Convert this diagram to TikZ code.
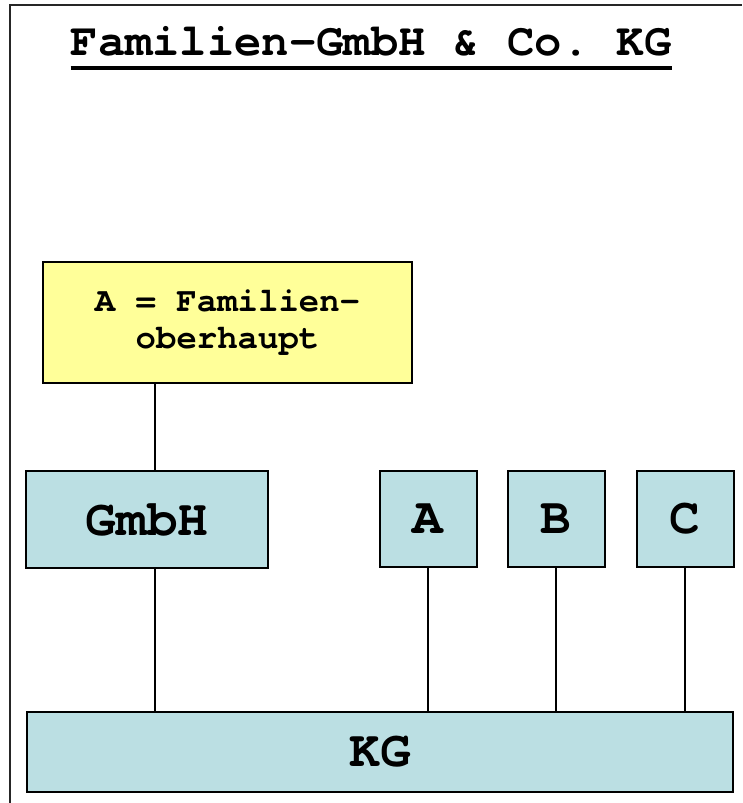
\documentclass[tikz,border=0pt]{standalone}
\usepackage{fontspec}
\setmonofont{TeX Gyre Cursor}
\begin{document}
\begin{tikzpicture}[x=1pt,y=-1pt,
  every node/.style={font=\ttfamily\bfseries, text=black},
  frameline/.style={line width=1.5pt, draw=black!85},
  unitbox/.style={draw=black, line width=2pt, fill=boxblue, inner sep=0pt,
    font=\ttfamily\bfseries\fontsize{51}{56}\selectfont},
  headbox/.style={draw=black, line width=2pt, fill=boxyellow, inner sep=0pt, align=center,
    font=\ttfamily\bfseries\fontsize{34}{37}\selectfont},
  link/.style={line width=1.6pt, draw=black}]
\definecolor{boxblue}{HTML}{BBDFE3}
\definecolor{boxyellow}{HTML}{FFFF99}
\useasboundingbox (0,0) rectangle (742,803);
\fill[white] (0,0) rectangle (742,803);

% outer frame (left and top edges)
\draw[frameline] (10,803) -- (10,5) -- (742,5);

% heading with underline
\node[anchor=base, inner sep=0pt, font=\ttfamily\bfseries\fontsize{45.5}{50}\selectfont]
  (title) at (371,55) {Familien-GmbH \& Co. KG};
\draw[line width=3.5pt] ([yshift=-13pt]title.base west) -- ([yshift=-13pt]title.base east);

% boxes
\node[headbox, minimum width=369pt, minimum height=121pt] (fam) at (227.5,322.5)
  {A = Familien-\\oberhaupt};
\node[unitbox, minimum width=242pt, minimum height=97pt] (gmbh) at (147,519.5) {GmbH};
\node[unitbox, minimum width=97pt, minimum height=96pt] (a) at (428,519) {A};
\node[unitbox, minimum width=97pt, minimum height=96pt] (b) at (556,519) {B};
\node[unitbox, minimum width=97pt, minimum height=96pt] (c) at (685,519) {C};
\node[unitbox, minimum width=706pt, minimum height=80pt] (kg) at (380,752) {KG};

% connectors
\coordinate (gx) at (155,0);
\draw[link] (fam.south -| gx) -- (gmbh.north -| gx);
\draw[link] (gmbh.south -| gx) -- (kg.north -| gx);
\draw[link] (a.south) -- (a.south |- kg.north);
\draw[link] (b.south) -- (b.south |- kg.north);
\draw[link] (c.south) -- (c.south |- kg.north);
\end{tikzpicture}
\end{document}
